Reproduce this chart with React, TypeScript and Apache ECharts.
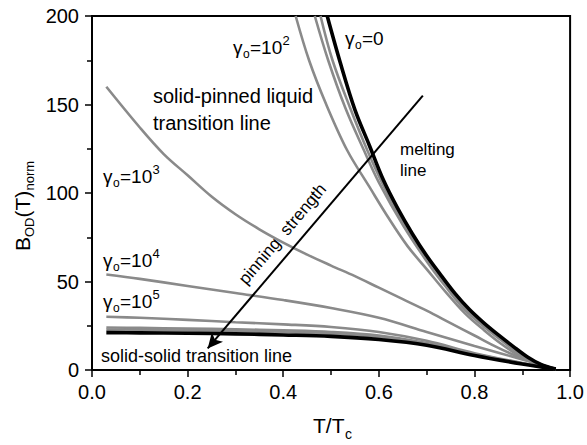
import React, { useEffect, useRef } from "react";
import * as echarts from "echarts";

const FONT = '"Liberation Sans", Arial, Helvetica, sans-serif';
const GRAY = "#8a8a8a";
const BLACK = "#000000";

// axis ticks
const xTicks = [0, 0.2, 0.4, 0.6, 0.8, 1.0];
const yTicks = [0, 50, 100, 150, 200];

// melting line, gamma_o = 0 (black)
const meltT = [0.492, 0.52, 0.55, 0.58, 0.61, 0.64, 0.67, 0.70, 0.73, 0.76, 0.79, 0.82, 0.85, 0.88, 0.91, 0.94, 0.97];
const meltB = [200, 173, 147, 127, 107, 91, 77, 64.5, 53.5, 43, 34, 26.5, 19.8, 13.5, 7.5, 3, 0.5];

// gray curves close to the melting line (weak pinning)
const g1T = [0.478, 0.503, 0.54, 0.576, 0.61, 0.65, 0.70, 0.74, 0.78, 0.82, 0.86, 0.90, 0.94, 0.97];
const g1B = [200, 175, 148, 124, 104, 84, 63.5, 49, 35, 25.5, 17, 8.5, 3, 0.5];
const g10T = [0.466, 0.494, 0.53, 0.569, 0.60, 0.65, 0.70, 0.74, 0.78, 0.82, 0.86, 0.90, 0.94, 0.97];
const g10B = [200, 175, 148, 124, 106, 82, 61.5, 47, 34, 24.5, 16, 8, 3, 0.5];
const g100T = [0.426, 0.454, 0.49, 0.534, 0.579, 0.62, 0.66, 0.70, 0.74, 0.78, 0.82, 0.86, 0.90, 0.94, 0.97];
const g100B = [200, 175, 150, 124, 104, 86, 70, 57, 44, 32, 22.5, 14, 7, 2.5, 0.5];

// gamma_o = 10^3
const g1e3T = [0.03, 0.1, 0.15, 0.2, 0.25, 0.3, 0.35, 0.4, 0.45, 0.5, 0.55, 0.6, 0.65, 0.7, 0.75, 0.8, 0.85, 0.9, 0.95, 0.97];
const g1e3B = [160, 137, 122, 110, 98, 88, 79.5, 72, 65.2, 59, 53, 46.5, 40, 33.5, 26.5, 19.5, 12.5, 6.5, 2, 0.5];

// strong pinning curves share the same T grid
const lowT = [0.03, 0.1, 0.2, 0.3, 0.4, 0.5, 0.6, 0.7, 0.8, 0.9, 0.97];
const g1e4B = [54, 51.5, 47.5, 43.5, 39.5, 35, 29.5, 21.5, 13.5, 6, 0.5];
const g1e5B = [30.1, 29.5, 28.3, 27, 25.8, 24.3, 21.5, 16.5, 9.5, 4, 0.5];
const g1e6B = [24, 23.8, 23.4, 23, 22.4, 21.5, 19.5, 15.3, 9, 3.8, 0.5];
const g1e7B = [22.8, 22.6, 22.3, 21.9, 21.3, 20.5, 18.6, 14.7, 8.6, 3.6, 0.5];
// solid-solid transition line (black)
const solidB = [21.1, 21, 20.8, 20.4, 19.8, 19, 17.2, 14, 8.2, 3.4, 0.5];

// pinning strength arrow (from -> tip), data coords
const arrowFrom = [0.692, 155];
const arrowTo = [0.242, 12.2];

function txt(x: number, base: number, text: string, fs: number, extra: any = {}) {
  return {
    type: "text",
    x,
    y: base - 0.35 * fs,
    silent: true,
    style: {
      text,
      fontSize: fs,
      fontFamily: FONT,
      fill: "#000",
      align: "left",
      verticalAlign: "middle",
      ...extra,
    },
  };
}

function gammaLabel(x0: number, base: number, rest: string, sup?: string) {
  const children: any[] = [
    txt(0, 0, "γ", 19),
    txt(10, 4, "o", 12),
    txt(17, 0, rest, 19),
  ];
  if (sup) children.push(txt(49.5, -9, sup, 13));
  return { type: "group", x: x0, y: base, children };
}

function mk(name: string, T: number[], B: number[], color: string, width: number, extra: any = {}) {
  return {
    type: "line",
    name,
    data: T.map((t, i) => [t, B[i]]),
    smooth: 0.35,
    symbol: "none",
    showSymbol: false,
    silent: true,
    clip: true,
    lineStyle: { color, width },
    ...extra,
  };
}

export default function App() {
  const ref = useRef<HTMLDivElement>(null);
  useEffect(() => {
    if (!ref.current) return;
    const chart = echarts.init(ref.current, undefined, { renderer: "svg" });
    const axisCommon = {
      type: "value",
      axisLine: { show: true, onZero: false, lineStyle: { color: BLACK, width: 2 } },
      axisTick: { show: true, inside: false, length: 7, lineStyle: { color: BLACK, width: 1.5 } },
      minorTick: { show: true, splitNumber: 2, length: 5, lineStyle: { color: BLACK, width: 1.5 } },
      splitLine: { show: false },
      minorSplitLine: { show: false },
    };
    const option: any = {
      animation: false,
      backgroundColor: "#ffffff",
      textStyle: { fontFamily: FONT },
      grid: {
        left: 92,
        right: 15,
        top: 16,
        bottom: 75,
        show: true,
        borderColor: BLACK,
        borderWidth: 2,
        backgroundColor: "transparent",
      },
      xAxis: {
        ...axisCommon,
        min: xTicks[0],
        max: xTicks[xTicks.length - 1],
        interval: 0.2,
        axisLabel: {
          color: BLACK,
          fontSize: 20,
          fontFamily: FONT,
          margin: 12,
          formatter: (v: number) => v.toFixed(1),
        },
      },
      yAxis: {
        ...axisCommon,
        min: yTicks[0],
        max: yTicks[yTicks.length - 1],
        interval: 50,
        axisLabel: {
          color: BLACK,
          fontSize: 20,
          fontFamily: FONT,
          margin: 13,
          formatter: (v: number) => String(v),
        },
      },
      series: [
        mk("γo=10³", g1e3T, g1e3B, GRAY, 2.6),
        mk("γo=10⁴", lowT, g1e4B, GRAY, 2.6),
        mk("γo=10⁵", lowT, g1e5B, GRAY, 2.6),
        mk("γo=10⁶", lowT, g1e6B, GRAY, 2.6),
        mk("γo=10⁷", lowT, g1e7B, GRAY, 2.6),
        mk("γo=10²", g100T, g100B, GRAY, 2.6),
        mk("γo=10", g10T, g10B, GRAY, 2.6),
        mk("γo=1", g1T, g1B, GRAY, 2.6),
        mk("solid-solid", lowT, solidB, BLACK, 3.6),
        mk("γo=0", meltT, meltB, BLACK, 3.6, {
          markLine: {
            silent: true,
            symbol: ["none", "arrow"],
            symbolSize: [11, 15],
            label: { show: false },
            lineStyle: { color: BLACK, width: 2, type: "solid" },
            data: [[{ coord: arrowFrom }, { coord: arrowTo }]],
          },
        }),
      ],
      graphic: [
        gammaLabel(233, 54, "=10", "2"),
        gammaLabel(345, 45, "=0"),
        gammaLabel(103, 183, "=10", "3"),
        gammaLabel(103, 267, "=10", "4"),
        gammaLabel(103, 308, "=10", "5"),
        txt(153, 103, "solid-pinned liquid", 20),
        txt(153, 130, "transition line", 20),
        txt(400, 155, "melting", 17),
        txt(400, 176.5, "line", 17),
        txt(101, 362.5, "solid-solid transition line", 18),
        {
          type: "text",
          x: 282.5,
          y: 234,
          rotation: 0.87,
          silent: true,
          style: {
            text: "pinning  strength",
            fontSize: 17,
            fontFamily: FONT,
            fill: "#000",
            align: "center",
            verticalAlign: "middle",
          },
        },
        // y axis title B_OD(T)_norm
        {
          type: "group",
          x: 30,
          y: 251,
          rotation: Math.PI / 2,
          children: [
            txt(0, 0, "B", 21),
            txt(14, 4, "OD", 13),
            txt(33.5, 0, "(T)", 21),
            txt(60.5, 4, "norm", 13),
          ],
        },
        // x axis title T/T_c
        txt(313, 433, "T/T", 21),
        txt(345, 439, "c", 14),
      ],
    };
    chart.setOption(option);
    return () => chart.dispose();
  }, []);
  return (
    <div
      ref={ref}
      style={{ position: "fixed", left: 0, top: 0, width: 587, height: 445, background: "#fff" }}
    />
  );
}
